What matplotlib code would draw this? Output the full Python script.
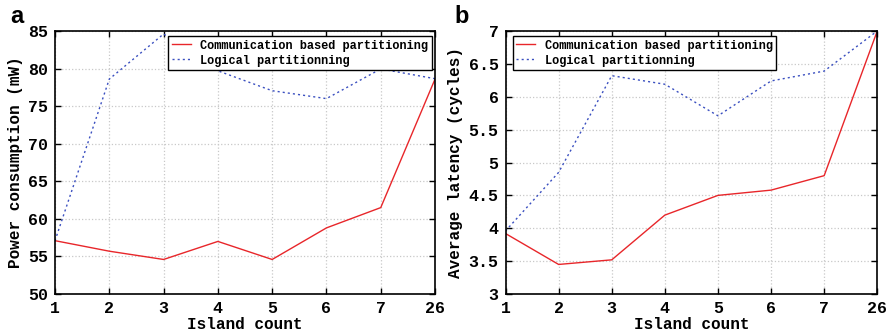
import numpy as np
import matplotlib.pyplot as plt

islands = ['1', '2', '3', '4', '5', '6', '7', '26']

power_comm = [57.1, 55.7, 54.6, 57.0, 54.6, 58.8, 61.5, 78.6]
power_logic = [57.1, 78.6, 84.6, 79.7, 77.05, 76.0, 79.95, 78.65]

lat_comm = [3.92, 3.45, 3.52, 4.20, 4.50, 4.58, 4.80, 7.0]
lat_logic = [3.96, 4.85, 6.32, 6.19, 5.71, 6.24, 6.39, 7.0]

RED = '#e8262a'
BLUE = '#3a4fc0'
MONO = 'Liberation Mono'


def style_axis(ax, ylim, yticks, ylabel):
    x = np.arange(len(islands))
    ax.set_xlim(0, len(islands) - 1)
    ax.set_xticks(x)
    ax.set_xticklabels(islands)
    ax.set_ylim(*ylim)
    ax.set_yticks(yticks)
    ax.set_yticklabels([('%g' % t) for t in yticks])
    ax.grid(True, color='#c8c8c8', linestyle=':', linewidth=0.9)
    ax.tick_params(direction='in', top=True, right=True, length=4, width=1.0,
                   labelsize=12, pad=5)
    for lab in ax.get_xticklabels() + ax.get_yticklabels():
        lab.set_family(MONO)
        lab.set_fontweight('bold')
    for s in ax.spines.values():
        s.set_linewidth(1.2)
    ax.set_xlabel('Island count', family=MONO, fontweight='bold', fontsize=11.5, labelpad=1)
    ax.set_ylabel(ylabel, family=MONO, fontweight='bold', fontsize=11.5, labelpad=4)


def add_legend(ax, loc, anchor):
    leg = ax.legend(loc=loc, bbox_to_anchor=anchor, fancybox=False,
                    edgecolor='black', framealpha=1, handlelength=1.6, handletextpad=0.8,
                    borderpad=0.3, labelspacing=0.25, borderaxespad=0,
                    prop={'family': MONO, 'weight': 'bold', 'size': 8.6})
    leg.get_frame().set_linewidth(1.0)


fig = plt.figure(figsize=(8.9, 3.33), dpi=100)
ax1 = fig.add_axes([0.0618, 0.117, 0.427, 0.790])
ax2 = fig.add_axes([0.568, 0.117, 0.4177, 0.790])

x = np.arange(len(islands))
ax1.plot(x, power_comm, color=RED, linewidth=1.0, label='Communication based partitioning')
ax1.plot(x, power_logic, color=BLUE, linewidth=1.0, linestyle=(0, (1.5, 2.2)),
         label='Logical partitionning')
style_axis(ax1, (50, 85), np.arange(50, 86, 5), 'Power consumption (mW)')
add_legend(ax1, 'upper right', (0.992, 0.981))

ax2.plot(x, lat_comm, color=RED, linewidth=1.0, label='Communication based partitioning')
ax2.plot(x, lat_logic, color=BLUE, linewidth=1.0, linestyle=(0, (1.5, 2.2)),
         label='Logical partitionning')
style_axis(ax2, (3, 7), np.arange(3, 7.01, 0.5), 'Average latency (cycles)')
add_legend(ax2, 'upper left', (0.019, 0.981))

fig.text(0.011, 0.985, 'a', fontsize=17, fontweight='bold', family='Liberation Sans', va='top')
fig.text(0.511, 0.985, 'b', fontsize=17, fontweight='bold', family='Liberation Sans', va='top')

fig.savefig('out.png', dpi=100)
